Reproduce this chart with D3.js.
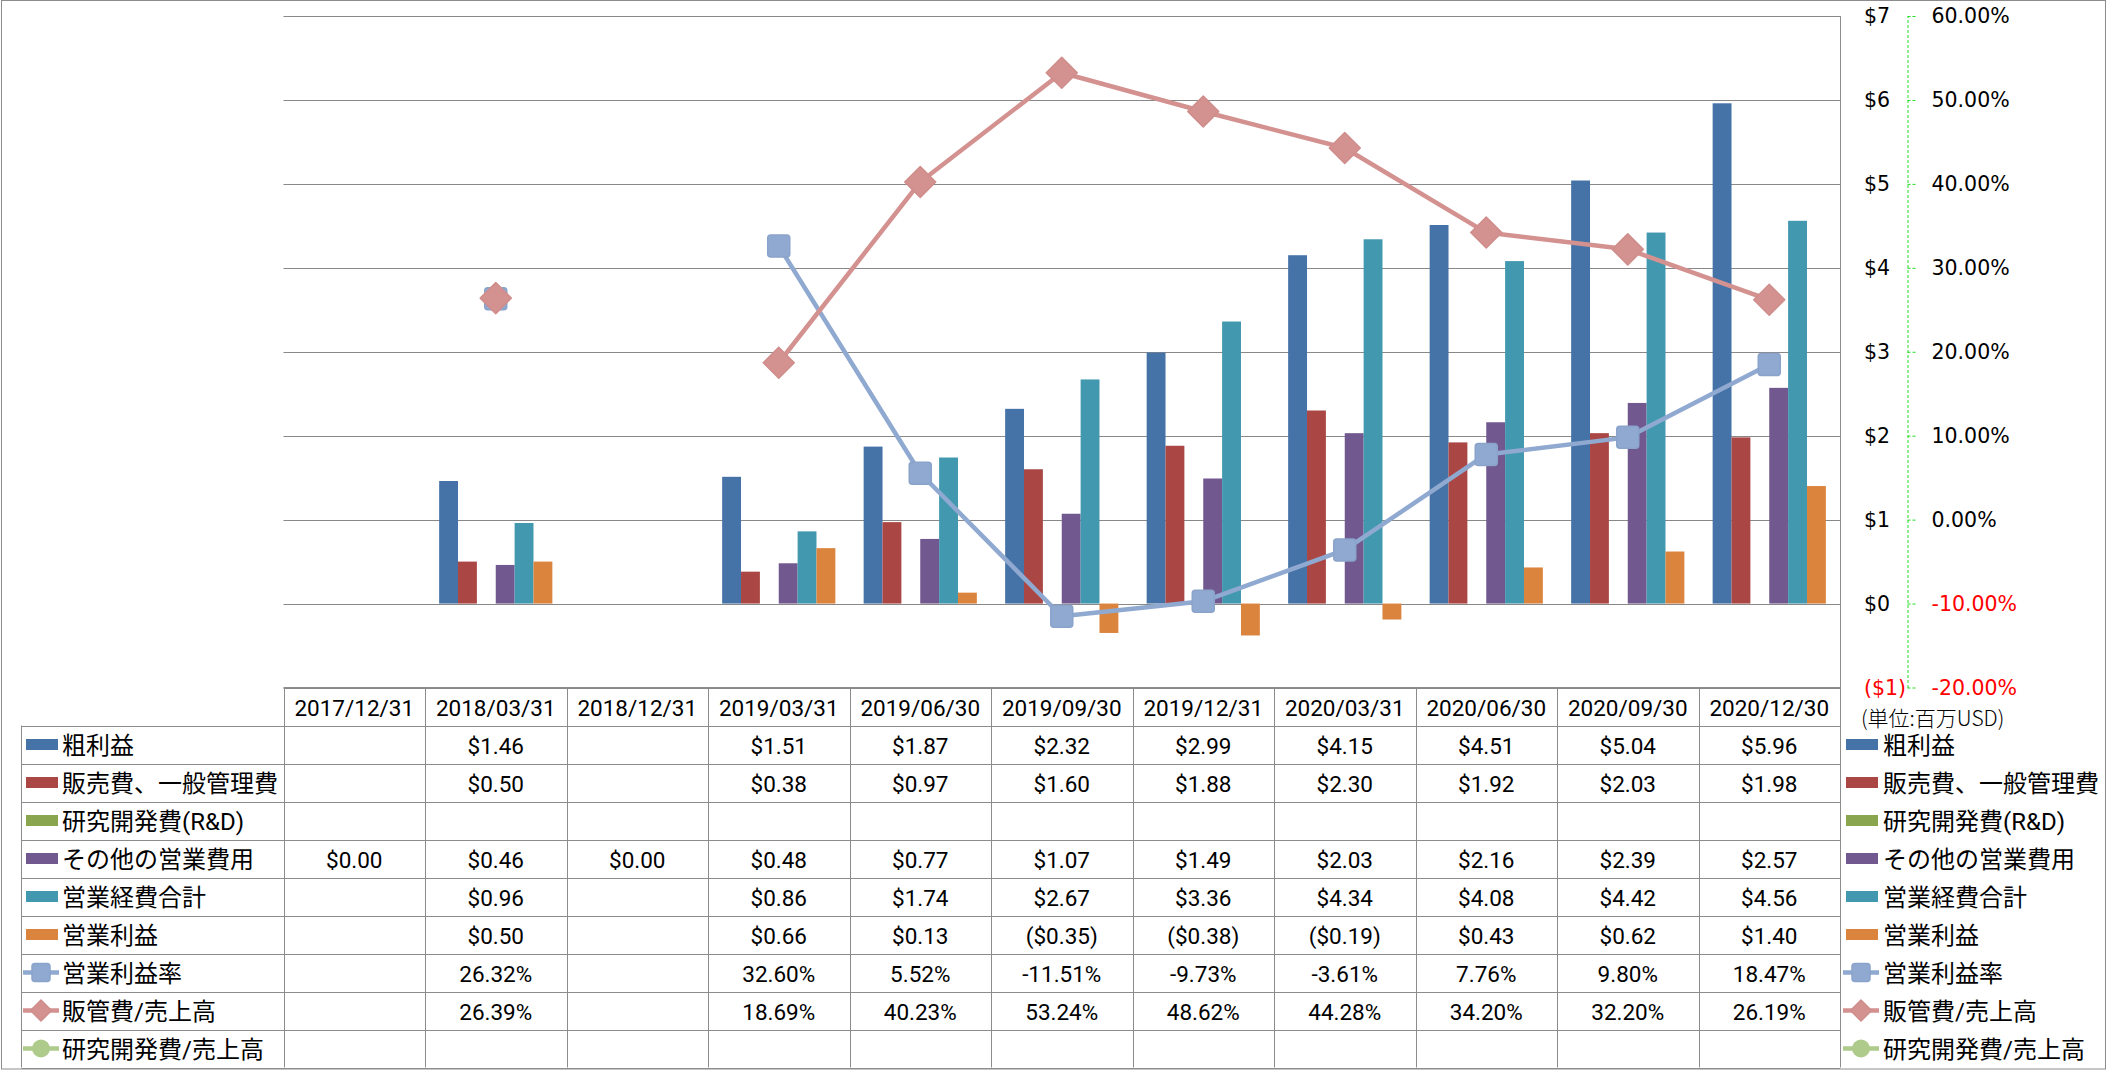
<!DOCTYPE html>
<html><head><meta charset="utf-8">
<script src="https://cdn.jsdelivr.net/npm/d3@7"></script>
<style>body{margin:0;background:#fff}svg{display:block}</style>
</head><body>
<svg id="c" width="2107" height="1071"></svg>
<script>
// ---------- DATA ----------
const categories = ["2017/12/31","2018/03/31","2018/12/31","2019/03/31","2019/06/30","2019/09/30","2019/12/31","2020/03/31","2020/06/30","2020/09/30","2020/12/30"];
const grossProfit   = [null, 1.46, null, 1.51, 1.87, 2.32, 2.99, 4.15, 4.51, 5.04, 5.96];
const sgaExpense    = [null, 0.50, null, 0.38, 0.97, 1.60, 1.88, 2.30, 1.92, 2.03, 1.98];
const rdExpense     = [null, null, null, null, null, null, null, null, null, null, null];
const otherOpex     = [0.00, 0.46, 0.00, 0.48, 0.77, 1.07, 1.49, 2.03, 2.16, 2.39, 2.57];
const totalOpex     = [null, 0.96, null, 0.86, 1.74, 2.67, 3.36, 4.34, 4.08, 4.42, 4.56];
const opIncome      = [null, 0.50, null, 0.66, 0.13, -0.35, -0.38, -0.19, 0.43, 0.62, 1.40];
const opMargin      = [null, 26.32, null, 32.60, 5.52, -11.51, -9.73, -3.61, 7.76, 9.80, 18.47];
const sgaRatio      = [null, 26.39, null, 18.69, 40.23, 53.24, 48.62, 44.28, 34.20, 32.20, 26.19];
const rdRatio       = [null, null, null, null, null, null, null, null, null, null, null];
const leftTicks     = [-1, 0, 1, 2, 3, 4, 5, 6, 7];
const rightTicks    = [-20, -10, 0, 10, 20, 30, 40, 50, 60];
const unitLabel     = "(単位:百万USD)";

const barSeries = [
  {name:"粗利益", values:grossProfit, color:"#4572A7"},
  {name:"販売費、一般管理費", values:sgaExpense, color:"#AA4643"},
  {name:"研究開発費(R&D)", values:rdExpense, color:"#89A54E"},
  {name:"その他の営業費用", values:otherOpex, color:"#71588F"},
  {name:"営業経費合計", values:totalOpex, color:"#4198AF"},
  {name:"営業利益", values:opIncome, color:"#DB843D"}
];
const lineSeries = [
  {name:"営業利益率", values:opMargin, color:"#8FA9D0", marker:"square"},
  {name:"販管費/売上高", values:sgaRatio, color:"#D3918F", marker:"diamond"},
  {name:"研究開発費/売上高", values:rdRatio, color:"#AECB8C", marker:"circle"}
];

// ---------- LAYOUT ----------
const svg = d3.select("#c");
const W = 2107, H = 1071;
const plotL = 283.5, plotR = 1840, yTop = 16, yBot = 687.5;
const tableTop = 687.5, headH = 38, rowH = 38, labelL = 21.5;
const gridColor = "#888888", borderColor = "#8c8c8c";
const numFont = "Roboto, 'Noto Sans CJK JP', sans-serif";
const jpFont = "'Noto Sans CJK JP', sans-serif";
const axisFont = "'DejaVu Sans', Verdana, sans-serif";

const x0 = d3.scaleBand().domain(categories).range([plotL, plotR]).padding(0);
const bw = x0.bandwidth();
const x1 = d3.scaleBand().domain(barSeries.map(s => s.name)).range([0, bw]).paddingInner(0).paddingOuter(0.75);
const y = d3.scaleLinear().domain([-1, 7]).range([yBot, yTop]);
const y2 = d3.scaleLinear().domain([-20, 60]).range([yBot, yTop]);

// outer border
svg.append("rect").attr("x",1.5).attr("y",0.5).attr("width",W-3).attr("height",H-2.5)
  .attr("fill","#fff").attr("stroke",borderColor).attr("stroke-width",1);

// gridlines
svg.append("g").selectAll("line").data(leftTicks).join("line")
  .attr("x1",plotL).attr("x2",plotR)
  .attr("y1",d => Math.round(y(d))+0.5).attr("y2",d => Math.round(y(d))+0.5)
  .attr("stroke",gridColor).attr("stroke-width",1);

// right vertical line of plot
svg.append("line").attr("x1",plotR+0.5).attr("x2",plotR+0.5).attr("y1",yTop).attr("y2",tableTop+headH+rowH*9)
  .attr("stroke",borderColor);

// bars
const barG = svg.append("g");
barSeries.forEach(s => {
  barG.append("g").selectAll("rect")
    .data(categories.map((c,i) => ({c, v:s.values[i]})).filter(d => d.v != null))
    .join("rect")
    .attr("x", d => x0(d.c) + x1(s.name))
    .attr("width", x1.bandwidth())
    .attr("y", d => y(Math.max(0,d.v)))
    .attr("height", d => Math.abs(y(d.v) - y(0)))
    .attr("fill", s.color);
});

// marker drawing helper (size = full width of the marker)
function drawMarker(g, type, cx, cy, color, size) {
  if (type === "square") {
    g.append("rect").attr("x",cx-size/2).attr("y",cy-size/2).attr("width",size).attr("height",size)
      .attr("rx",3).attr("fill",color).attr("stroke","#8AA3CA").attr("stroke-width",1.5);
  } else if (type === "diamond") {
    const r = size/2;
    g.append("path").attr("d",`M${cx},${cy-r}L${cx+r},${cy}L${cx},${cy+r}L${cx-r},${cy}Z`)
      .attr("fill",color).attr("stroke","#CF8D8B").attr("stroke-width",1.5).attr("stroke-linejoin","round");
  } else {
    g.append("circle").attr("cx",cx).attr("cy",cy).attr("r",size/2).attr("fill",color);
  }
}

// lines
const lineG = svg.append("g");
lineSeries.forEach(s => {
  const pts = categories.map((c,i) => ({c, v:s.values[i]}));
  const line = d3.line().defined(d => d.v != null).x(d => x0(d.c)+bw/2).y(d => y2(d.v));
  lineG.append("path").datum(pts).attr("d", line).attr("fill","none")
    .attr("stroke", s.color).attr("stroke-width",4.5).attr("stroke-linejoin","round");
  pts.filter(d => d.v != null).forEach(d => {
    drawMarker(lineG, s.marker, x0(d.c)+bw/2, y2(d.v), s.color, s.marker === "diamond" ? 31 : 22);
  });
});

// left ($) axis labels on the right side
const axL = d3.axisRight(y).tickValues(leftTicks).tickSize(0).tickPadding(0)
  .tickFormat(v => v < 0 ? `($${-v})` : `$${v}`);
const gL = svg.append("g").attr("transform","translate(1864,0)").call(axL);
gL.select(".domain").remove();
gL.selectAll("text").attr("font-family",axisFont).attr("font-size",20.5)
  .attr("fill", d => d < 0 ? "#FF0000" : "#000").attr("text-anchor","start");

// secondary (%) axis
const axR = d3.axisRight(y2).tickValues(rightTicks).tickSize(9).tickSizeOuter(0).tickPadding(15)
  .tickFormat(v => v.toFixed(2) + "%");
const gR = svg.append("g").attr("transform","translate(1907.5,0)").call(axR);
gR.select(".domain").attr("stroke","#22DD22").attr("stroke-dasharray","3,2").attr("stroke-width",1);
gR.selectAll(".tick line").attr("stroke","#22DD22").attr("stroke-dasharray","3,2");
gR.selectAll("text").attr("font-family",axisFont).attr("font-size",20.5)
  .attr("fill", d => d < 0 ? "#FF0000" : "#000");

// unit label
svg.append("text").attr("x",1861).attr("y",717).attr("dominant-baseline","central")
  .attr("font-family",jpFont).attr("font-size",21).attr("font-weight",300).text(unitLabel);

// ---------- DATA TABLE ----------
const tbl = svg.append("g");
const rows = [
  ...barSeries.map(s => ({...s, kind:"bar", fmt: v => v < 0 ? `($${(-v).toFixed(2)})` : `$${v.toFixed(2)}`})),
  ...lineSeries.map(s => ({...s, kind:"line", fmt: v => `${v.toFixed(2)}%`}))
];
const tableBottom = tableTop + headH + rowH*rows.length;
// header
tbl.append("line").attr("x1",plotL).attr("x2",plotR).attr("y1",tableTop).attr("y2",tableTop).attr("stroke",borderColor);
tbl.selectAll(".hdr").data(categories).join("text")
  .attr("x", d => x0(d)+bw/2).attr("y", tableTop+headH/2+1)
  .attr("text-anchor","middle").attr("dominant-baseline","central")
  .attr("font-family",numFont).attr("font-size",22.5).attr("fill","#000").text(d => d);
// horizontal lines
d3.range(rows.length+1).forEach(i => {
  const yy = Math.round(tableTop+headH+rowH*i)+0.5;
  tbl.append("line").attr("x1",labelL).attr("x2",plotR).attr("y1",yy).attr("y2",yy).attr("stroke",borderColor);
});
// vertical lines
tbl.append("line").attr("x1",labelL).attr("x2",labelL).attr("y1",tableTop+headH).attr("y2",tableBottom).attr("stroke",borderColor);
categories.forEach(c => {
  const xx = Math.round(x0(c))+0.5;
  tbl.append("line").attr("x1",xx).attr("x2",xx).attr("y1",tableTop).attr("y2",tableBottom).attr("stroke",borderColor);
});

function legendKey(g, r, lx, cy) {
  if (r.kind === "bar") {
    g.append("rect").attr("x",lx+4).attr("y",cy-5.5).attr("width",32).attr("height",11).attr("fill",r.color);
  } else {
    g.append("line").attr("x1",lx+1).attr("x2",lx+37).attr("y1",cy).attr("y2",cy)
      .attr("stroke",r.color).attr("stroke-width",4.5);
    drawMarker(g, r.marker, lx+19, cy, r.color, r.marker === "diamond" ? 21 : 18);
  }
}

rows.forEach((r,i) => {
  const cy = tableTop+headH+rowH*i+rowH/2;
  legendKey(tbl, r, 22, cy);
  tbl.append("text").attr("x",62).attr("y",cy+1).attr("dominant-baseline","central")
    .attr("font-family",numFont).attr("font-size",24).attr("fill","#000").text(r.name);
  tbl.append("g").selectAll("text")
    .data(categories.map((c,j) => ({c, v:r.values[j]})).filter(d => d.v != null))
    .join("text")
    .attr("x", d => x0(d.c)+bw/2).attr("y", cy+1)
    .attr("text-anchor","middle").attr("dominant-baseline","central")
    .attr("font-family",numFont).attr("font-size",22.5).attr("fill","#000")
    .text(d => r.fmt(d.v));
  legendKey(tbl, r, 1842, cy);
  tbl.append("text").attr("x",1883).attr("y",cy+1).attr("dominant-baseline","central")
    .attr("font-family",numFont).attr("font-size",24).attr("fill","#000").text(r.name);
});
</script>
</body></html>
